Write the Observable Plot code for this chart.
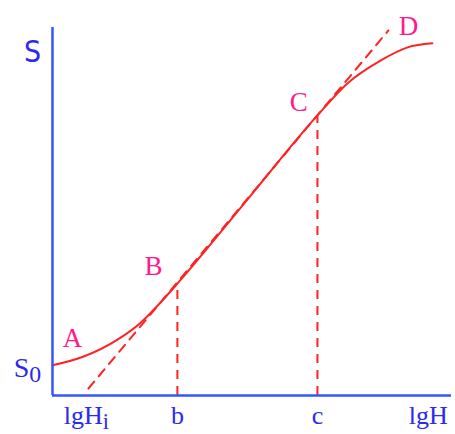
<!DOCTYPE html>
<html><head><meta charset="utf-8">
<script src="https://cdn.jsdelivr.net/npm/d3@7"></script>
<script src="https://cdn.jsdelivr.net/npm/@observablehq/plot@0.6"></script>
<style>body{margin:0;background:#fff}</style>
</head><body><div id="chart"></div>
<script>
// Response curve S against lgH, with tangent through the linear part B–C
const curveX = [0, 0.78, 1.63, 2.21, 2.71, 3.13, 4.89, 6.64, 7.39, 8.22, 8.90, 9.52];
const curveY = [0.82, 1.06, 1.52, 1.98, 2.53, 3.04, 5.33, 7.61, 8.48, 9.10, 9.46, 9.57];

const tangentX = [0.90, 8.42];
const tangentY = [0.19, 9.92];

// feet of the perpendiculars from B and C
const dropX = [3.13, 6.64];
const dropY = [3.04, 7.61];

const pointNames = ["A", "B", "C", "D"];
const pointX = [0.50, 2.53, 6.17, 8.92];
const pointY = [1.55, 3.51, 7.96, 10.03];

const xTickPos = [0.85, 3.13, 6.64, 9.42];
const xTickLabels = ["lgH_i", "b", "c", "lgH"];

const yLabelPos = [9.32, 0.76];
const yLabels = ["S", "S_0"];

const blue = "#3355ff", textBlue = "#2a2af0", red = "#ff2222", pink = "#ff1a8c";

const curve = curveX.map((x, i) => ({x, y: curveY[i]}));
const tangent = tangentX.map((x, i) => ({x, y: tangentY[i]}));
const drops = dropX.map((x, i) => ({x, y: dropY[i]}));
const points = pointNames.map((name, i) => ({name, x: pointX[i], y: pointY[i]}));
const xTicks = xTickLabels.map((label, i) => ({label, x: xTickPos[i]}));
const yTicks = yLabels.map((label, i) => ({label, y: yLabelPos[i]}));

const svg = Plot.plot({
  width: 455,
  height: 434,
  marginLeft: 52,
  marginRight: 4,
  marginTop: 27,
  marginBottom: 39,
  x: {domain: [0, 10], axis: null},
  y: {domain: [0, 10], axis: null},
  style: {fontFamily: "'Liberation Serif', serif", background: "#fff"},
  marks: [
    Plot.ruleX(drops, {x: "x", y1: 0, y2: "y", stroke: red, strokeWidth: 2, strokeDasharray: "9,7"}),
    Plot.line(tangent, {x: "x", y: "y", stroke: red, strokeWidth: 2, strokeDasharray: "9,7"}),
    Plot.line(curve, {x: "x", y: "y", curve: "monotone-x", stroke: red, strokeWidth: 2}),
    Plot.ruleX([0], {y1: 0, y2: 10, stroke: blue, strokeWidth: 2.5}),
    Plot.ruleY([0], {x1: 0, x2: 10, stroke: blue, strokeWidth: 2.5}),
    Plot.text(points, {x: "x", y: "y", text: "name", fill: pink, fontSize: 27}),
    Plot.text(xTicks, {x: "x", y: 0, text: "label", dy: 20, fill: textBlue, fontSize: 26}),
    Plot.text(yTicks.slice(0, 1), {x: 0, y: "y", text: "label", dx: -20, fill: textBlue, fontSize: 30,
      fontFamily: "'Liberation Sans Narrow', 'DejaVu Sans Condensed', sans-serif"}),
    Plot.text(yTicks.slice(1), {x: 0, y: "y", text: "label", dx: -25, dy: 0, fill: textBlue, fontSize: 28})
  ]
});

// render "name_sub" labels with a lowered subscript
d3.select(svg).selectAll("text").each(function() {
  const t = this.textContent;
  if (t.includes("_")) {
    const [main, sub] = t.split("_");
    this.textContent = "";
    d3.select(this).append("tspan").text(main);
    d3.select(this).append("tspan").attr("dy", "0.22em").attr("font-size", "0.85em").text(sub);
  }
});

document.getElementById("chart").append(svg);
</script>
</body></html>
